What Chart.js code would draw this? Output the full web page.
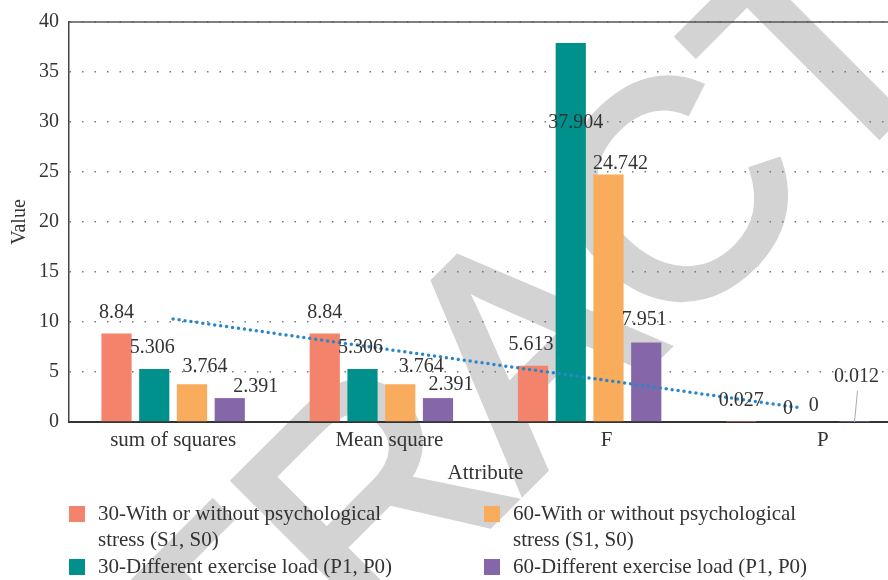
<!DOCTYPE html>
<html>
<head>
<meta charset="utf-8">
<script src="https://cdn.jsdelivr.net/npm/chart.js@4"></script>
<style>
  html, body { margin: 0; padding: 0; background: #fff; overflow: hidden; }
  #wrap { position: relative; width: 910px; height: 580px; }
</style>
</head>
<body>
<div id="wrap"><canvas id="myChart"></canvas></div>
<script>
const categories = ["sum of squares", "Mean square", "F", "P"];
const stress30 = [8.84, 8.84, 5.613, 0.027];
const load30 = [5.306, 5.306, 37.904, 0];
const stress60 = [3.764, 3.764, 24.742, 0];
const load60 = [2.391, 2.391, 7.951, 0.012];
const trendValues = [10.3, 7.35, 4.4, 1.45];
const yTicks = [0, 5, 10, 15, 20, 25, 30, 35, 40];

const colors = ["#f4836b", "#00918c", "#f8ac5c", "#8566a9"];
const serif = "'Liberation Serif', 'DejaVu Serif', serif";
const textColor = "#333";

// where the original figure moved some value labels (dx, dy)
const labelNudge = {
    "1-0": [-2, 0], "2-0": [13, 3], "3-0": [26, 10],
    "1-1": [-2, 0], "2-1": [21, 3], "3-1": [13, 8],
    "0-2": [-2, 0], "1-2": [5, 101], "2-2": [12, 10], "3-2": [-2, -2],
    "1-3": [9, 8], "2-3": [-3, 5], "3-3": [2, -24]
};
const tickNudge = [0, 8, 17, 25];

// legend: [dataset index, column x, row y]
const legendSlots = [[0, 69, 514], [1, 69, 567], [2, 484, 514], [3, 484, 567]];
const legendLines = [
    ["30-With or without psychological", "stress (S1, S0)"],
    ["30-Different exercise load (P1, P0)"],
    ["60-With or without psychological", "stress (S1, S0)"],
    ["60-Different exercise load (P1, P0)"]
];

const watermark = {
    id: "watermark",
    beforeDraw(chart) {
        const ctx = chart.ctx;
        ctx.save();
        ctx.translate(595, 419);
        ctx.rotate(-45 * Math.PI / 180);
        ctx.fillStyle = "#d3d3d3";
        ctx.strokeStyle = "#d3d3d3";
        ctx.lineWidth = 8;
        ctx.font = "306px 'Liberation Sans', Arial, sans-serif";
        ctx.textAlign = "center";
        ctx.textBaseline = "alphabetic";
        ctx.fillText("RETRACTED", 0, 0);
        ctx.strokeText("RETRACTED", 0, 0);
        ctx.restore();
    }
};

const extras = {
    id: "extras",
    afterDatasetsDraw(chart) {
        const ctx = chart.ctx;
        const area = chart.chartArea;
        ctx.save();
        ctx.strokeStyle = "#555";
        ctx.lineWidth = 1.5;
        ctx.beginPath();
        ctx.moveTo(area.left, area.top);
        ctx.lineTo(area.right, area.top);
        ctx.stroke();

        ctx.font = "20px " + serif;
        ctx.fillStyle = textColor;
        ctx.textAlign = "center";
        ctx.textBaseline = "middle";
        chart.data.datasets.forEach((ds, i) => {
            if (ds.type === "line") return;
            chart.getDatasetMeta(i).data.forEach((bar, j) => {
                const n = labelNudge[i + "-" + j] || [0, 0];
                const x = bar.x + n[0];
                const y = bar.y - 21 + n[1];
                ctx.fillText(String(ds.data[j]), x, y);
                if (i === 3 && j === 3) {
                    ctx.strokeStyle = "#aaa";
                    ctx.lineWidth = 1;
                    ctx.beginPath();
                    ctx.moveTo(x + 1, y + 14);
                    ctx.lineTo(x - 2, area.bottom);
                    ctx.stroke();
                }
            });
        });

        // category labels
        ctx.font = "21px " + serif;
        const xs = chart.scales.x;
        categories.forEach((c, i) => {
            ctx.fillText(c, xs.getPixelForValue(i) + tickNudge[i], 440);
        });
        ctx.restore();
    },
    afterDraw(chart) {
        const ctx = chart.ctx;
        ctx.save();
        ctx.font = "21px " + serif;
        ctx.textBaseline = "middle";
        ctx.textAlign = "left";
        legendSlots.forEach(([i, x, y]) => {
            ctx.fillStyle = chart.data.datasets[i].backgroundColor;
            ctx.fillRect(x, y - 8, 16, 16);
            ctx.fillStyle = textColor;
            legendLines[i].forEach((t, k) => ctx.fillText(t, x + 29, y + k * 26.5));
        });
        ctx.restore();
    }
};

const ctx = document.getElementById("myChart").getContext("2d");
new Chart(ctx, {
    type: "bar",
    data: {
        labels: categories,
        datasets: [
            { label: legendLines[0].join(" "), data: stress30, backgroundColor: colors[0], order: 1 },
            { label: legendLines[1].join(" "), data: load30, backgroundColor: colors[1], order: 1 },
            { label: legendLines[2].join(" "), data: stress60, backgroundColor: colors[2], order: 1 },
            { label: legendLines[3].join(" "), data: load60, backgroundColor: colors[3], order: 1 },
            {
                type: "line", label: "trend", data: trendValues, order: 0,
                borderColor: "#2b86c8", borderWidth: 3.5, borderDash: [0, 6],
                borderCapStyle: "round", pointRadius: 0, fill: false, tension: 0
            }
        ]
    },
    options: {
        responsive: true,
        maintainAspectRatio: false,
        animation: false,
        categoryPercentage: 0.725,
        barPercentage: 0.8,
        layout: { padding: { top: 20, right: 8, bottom: 94, left: 0 } },
        plugins: {
            legend: { display: false },
            tooltip: { enabled: false }
        },
        scales: {
            x: {
                grid: { display: false },
                border: { display: true, color: "#333", width: 2 },
                ticks: { display: false },
                title: { display: true, text: "Attribute", color: textColor, font: { family: serif, size: 21 }, padding: { top: 0, bottom: 0 } },
                afterFit(scale) { scale.height = 64; }
            },
            y: {
                min: 0,
                max: 40,
                afterBuildTicks(scale) { scale.ticks = yTicks.map(v => ({ value: v })); },
                grid: { color: "#777", lineWidth: 1.5, drawTicks: false },
                border: { display: true, color: "#444", width: 1.5, dash: [1.5, 11] },
                ticks: { color: textColor, font: { family: serif, size: 20 }, padding: 10 },
                title: { display: true, text: "Value", color: textColor, font: { family: serif, size: 20 }, padding: { top: 8, bottom: 0 } },
                afterFit(scale) { scale.width = 69; }
            }
        }
    },
    plugins: [watermark, extras]
});
</script>
</body>
</html>
